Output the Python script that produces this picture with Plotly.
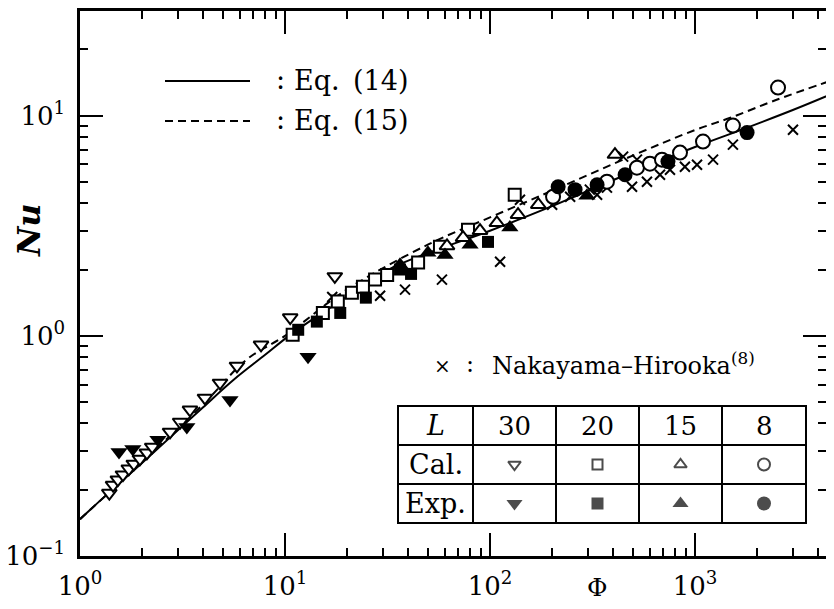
import plotly.graph_objects as go

# ---------------- data ----------------
eq14_x = [1, 1.35, 2, 3, 4, 5.6, 8, 10.6, 15, 20, 32, 50, 100, 190, 400, 1000, 1786, 3000, 4800]
eq14_y = [0.147, 0.190, 0.264, 0.372, 0.475, 0.63, 0.82, 1.01, 1.26, 1.50, 2.0, 2.38, 3.0, 3.8, 5.1, 7.2, 8.8, 10.6, 12.7]

eq15_x = [1, 2, 4, 6.5, 10, 20, 50, 100, 200, 500, 1000, 1500, 2500, 4800]
eq15_y = [0.147, 0.266, 0.49, 0.78, 1.0, 1.62, 2.6, 3.45, 4.55, 6.6, 8.6, 9.8, 11.8, 14.6]

cal30_x = [1.39, 1.45, 1.53, 1.62, 1.73, 1.83, 1.96, 2.12, 2.25, 2.75, 3.08, 3.44, 4.07, 4.82, 5.83, 7.64, 10.6, 17.5]
cal30_y = [0.193, 0.210, 0.222, 0.234, 0.249, 0.262, 0.276, 0.294, 0.313, 0.366, 0.406, 0.461, 0.522, 0.611, 0.730, 0.910, 1.21, 1.86]
exp30_x = [1.55, 1.81, 2.40, 3.32, 5.39, 12.95]
exp30_y = [0.297, 0.306, 0.337, 0.385, 0.511, 0.803]

cal20_x = [10.9, 15.3, 18.1, 21.2, 24.0, 27.5, 31.5, 44.6, 57.0, 78.1, 132]
cal20_y = [1.01, 1.27, 1.43, 1.57, 1.67, 1.80, 1.89, 2.15, 2.54, 3.03, 4.37]
exp20_x = [11.6, 14.3, 18.6, 24.8, 36.4, 41.2, 97.8]
exp20_y = [1.065, 1.16, 1.27, 1.49, 2.0, 1.91, 2.67]

cal15_x = [61.7, 73.9, 89.4, 108, 137, 172, 407]
cal15_y = [2.56, 2.79, 3.00, 3.26, 3.55, 3.94, 6.65]
exp15_x = [36.4, 49.8, 60.3, 79.9, 125, 297]
exp15_y = [2.10, 2.38, 2.33, 2.59, 3.10, 4.33]

cal8_x = [203, 372, 521, 603, 690, 845, 1094, 1531, 2541]
cal8_y = [4.28, 5.01, 5.80, 6.05, 6.31, 6.79, 7.62, 9.01, 13.4]
exp8_x = [215, 260, 333, 456, 738, 1795]
exp8_y = [4.75, 4.61, 4.85, 5.39, 6.18, 8.37]

nh_x = [17.0, 29.1, 38.5, 58.3, 112, 140, 201, 246, 307, 333, 372, 446, 493, 521, 583, 675, 755, 893, 1023, 1225, 1531, 3006]
nh_y = [1.50, 1.52, 1.62, 1.80, 2.17, 4.15, 3.94, 4.28, 4.61, 4.37, 4.71, 6.51, 4.75, 6.31, 5.01, 5.39, 5.68, 5.86, 5.98, 6.31, 7.38, 8.63]

x_tickvals = [1, 10, 100, 1000]
x_ticktext = ["10<sup>0</sup>", "10<sup>1</sup>", "10<sup>2</sup>", "10<sup>3</sup>"]
y_tickvals = [0.1, 1, 10]
y_ticktext = ["10<sup>\u22121</sup>", "10<sup>0</sup>", "10<sup>1</sup>"]

table_cols = ["30", "20", "15", "8"]
cal_symbols = ["triangle-down", "square", "triangle-up", "circle"]

# ---------------- figure ----------------
FONT = "DejaVu Serif"
fig = go.Figure()

fig.add_trace(go.Scatter(x=eq14_x, y=eq14_y, mode="lines", line=dict(color="black", width=2), line_shape="spline"))
fig.add_trace(go.Scatter(x=eq15_x, y=eq15_y, mode="lines", line=dict(color="black", width=2, dash="8px,5px"), line_shape="spline"))

def open_m(sym, size):
    return dict(symbol=sym, size=size, color="white", line=dict(color="black", width=2))

def fill_m(sym, size):
    return dict(symbol=sym, size=size, color="black", line=dict(color="black", width=0))

fig.add_trace(go.Scatter(x=nh_x, y=nh_y, mode="markers",
                         marker=dict(symbol="x-thin", size=10, color="black", line=dict(color="black", width=2))))
fig.add_trace(go.Scatter(x=cal30_x, y=cal30_y, mode="markers", marker=open_m("triangle-down", 13)))
fig.add_trace(go.Scatter(x=exp30_x, y=exp30_y, mode="markers", marker=fill_m("triangle-down", 15)))
fig.add_trace(go.Scatter(x=cal20_x, y=cal20_y, mode="markers", marker=open_m("square", 12)))
fig.add_trace(go.Scatter(x=exp20_x, y=exp20_y, mode="markers", marker=fill_m("square", 12)))
fig.add_trace(go.Scatter(x=cal15_x, y=cal15_y, mode="markers", marker=open_m("triangle-up", 13)))
fig.add_trace(go.Scatter(x=exp15_x, y=exp15_y, mode="markers", marker=fill_m("triangle-up", 15)))
fig.add_trace(go.Scatter(x=cal8_x, y=cal8_y, mode="markers", marker=open_m("circle", 14)))
fig.add_trace(go.Scatter(x=exp8_x, y=exp8_y, mode="markers", marker=fill_m("circle", 15)))

# ---------------- geometry (page pixels; the page body adds an 8px margin) ----------------
PAGE_OFF = 8
W, H = 834 - 2 * PAGE_OFF, 609 - 2 * PAGE_OFF
L, T, B = 80, 11, 556            # target page positions of left / top / bottom axes
R = W + PAGE_OFF                 # right edge of figure in page pixels
X_DEC = 205.0                    # pixels per decade on x
X_RANGE = [0, (R - L) / X_DEC]
Y_RANGE = [-1, 1.475]

col_edges = [398, 473, 556, 639, 722, 806]
row_edges = [406, 445, 484, 523]
col_c = [(col_edges[i] + col_edges[i + 1]) / 2 for i in range(5)]
row_c = [(row_edges[i] + row_edges[i + 1]) / 2 for i in range(3)]

fig.add_trace(go.Scatter(x=col_c[1:], y=[row_c[1]] * 4, mode="markers", xaxis="x2", yaxis="y2",
                         marker=dict(symbol=cal_symbols, size=[11, 10, 11, 12], color="white",
                                     line=dict(color="black", width=2))))
fig.add_trace(go.Scatter(x=col_c[1:], y=[row_c[2]] * 4, mode="markers", xaxis="x2", yaxis="y2",
                         marker=dict(symbol=cal_symbols, size=[14, 12, 14, 14], color="black",
                                     line=dict(width=0))))
# dummy trace so the top / right tick axes are drawn
fig.add_trace(go.Scatter(x=[10], y=[1], mode="markers", xaxis="x3", yaxis="y3",
                         marker=dict(size=1, opacity=0), hoverinfo="skip"))

shapes = []
shapes.append(dict(type="rect", xref="x2", yref="y2", x0=col_edges[0], x1=col_edges[-1],
                   y0=row_edges[0], y1=row_edges[-1], fillcolor="white", line=dict(color="black", width=2), layer="below"))
for xe in col_edges[1:-1]:
    shapes.append(dict(type="line", xref="x2", yref="y2", x0=xe, x1=xe, y0=row_edges[0], y1=row_edges[-1],
                       line=dict(color="black", width=2)))
for ye in row_edges[1:-1]:
    shapes.append(dict(type="line", xref="x2", yref="y2", x0=col_edges[0], x1=col_edges[-1], y0=ye, y1=ye,
                       line=dict(color="black", width=2)))
shapes.append(dict(type="line", xref="x2", yref="y2", x0=165, x1=250, y0=81, y1=81, line=dict(color="black", width=2)))
shapes.append(dict(type="line", xref="x2", yref="y2", x0=165, x1=250, y0=121, y1=121,
                   line=dict(color="black", width=2, dash="8px,5px")))

ann = []
def txt(x, y, s, size=26, xanchor="center", **kw):
    ann.append(dict(x=x, y=y, xref="x2", yref="y2", text=s, showarrow=False,
                    xanchor=xanchor, yanchor="middle", font=dict(family=FONT, size=size, color="black"), **kw))

txt(280, 79, ":", size=27)
txt(292, 80, "Eq.\u2002(14)", size=27, xanchor="left")
txt(280, 119, ":", size=27)
txt(292, 120, "Eq.\u2002(15)", size=27, xanchor="left")

txt(442, 366, "\u00d7", size=20)
txt(470, 364, ":", size=24)
txt(490, 364, "Nakayama\u2013Hirooka<sup>(8)</sup>", size=24, xanchor="left")

txt(col_c[0], row_c[0], "<i>L</i>", size=27)
for c, s in zip(col_c[1:], table_cols):
    txt(c, row_c[0], s, size=26)
txt(col_c[0], row_c[1], "Cal.", size=27)
txt(col_c[0], row_c[2], "Exp.", size=27)

def pxp(x):
    return (x - L) / (R - L)
def pyp(y):
    return (B - y) / (B - T)

ann.append(dict(x=pxp(29), y=pyp(230), xref="paper", yref="paper", text="<b><i>Nu</i></b>", showarrow=False,
                textangle=-90, xanchor="center", yanchor="middle", font=dict(family=FONT, size=32, color="black")))
ann.append(dict(x=pxp(597), y=pyp(604), xref="paper", yref="paper", text="\u03a6", showarrow=False,
                xanchor="center", yanchor="bottom", font=dict(family=FONT, size=25, color="black")))

minor_x = [m * 10 ** e for e in range(0, 4) for m in range(2, 10)]
minor_y = [m * 10 ** e for e in range(-1, 2) for m in range(2, 10)]

def minor(vals):
    return dict(tickvals=vals, ticks="inside", ticklen=8, tickwidth=1.5, tickcolor="black", showgrid=False)

axis_common = dict(type="log", showline=True, linewidth=2.5, linecolor="black", mirror=False, automargin=False,
                   ticks="inside", ticklen=23, tickwidth=2, tickcolor="black", showgrid=False, zeroline=False,
                   layer="above traces")
tick_font = dict(family=FONT, size=26, color="black")

fig.update_layout(
    template="none",
    width=W, height=H,
    margin=dict(l=L - PAGE_OFF, r=0, t=T - PAGE_OFF, b=H - (B - PAGE_OFF), autoexpand=False),
    paper_bgcolor="white", plot_bgcolor="rgba(0,0,0,0)",
    showlegend=False,
    xaxis=dict(range=X_RANGE, tickvals=x_tickvals, ticktext=x_ticktext, ticklabelstandoff=5,
               tickfont=tick_font, minor=minor(minor_x), **axis_common),
    yaxis=dict(range=Y_RANGE, tickvals=y_tickvals, ticktext=y_ticktext, ticklabelstandoff=7,
               tickfont=tick_font, minor=minor(minor_y), **axis_common),
    xaxis2=dict(overlaying="x", range=[L, R], visible=False, anchor="y2", automargin=False),
    yaxis2=dict(overlaying="y", range=[B, T], visible=False, anchor="x2", automargin=False),
    xaxis3=dict(overlaying="x", side="top", anchor="y3", range=X_RANGE, tickvals=x_tickvals,
                showticklabels=False, minor=minor(minor_x), **axis_common),
    yaxis3=dict(overlaying="y", side="right", anchor="x3", range=Y_RANGE, tickvals=y_tickvals,
                showticklabels=False, minor=minor(minor_y), **axis_common),
    shapes=shapes,
    annotations=ann,
)

fig.write_html("out.html")
